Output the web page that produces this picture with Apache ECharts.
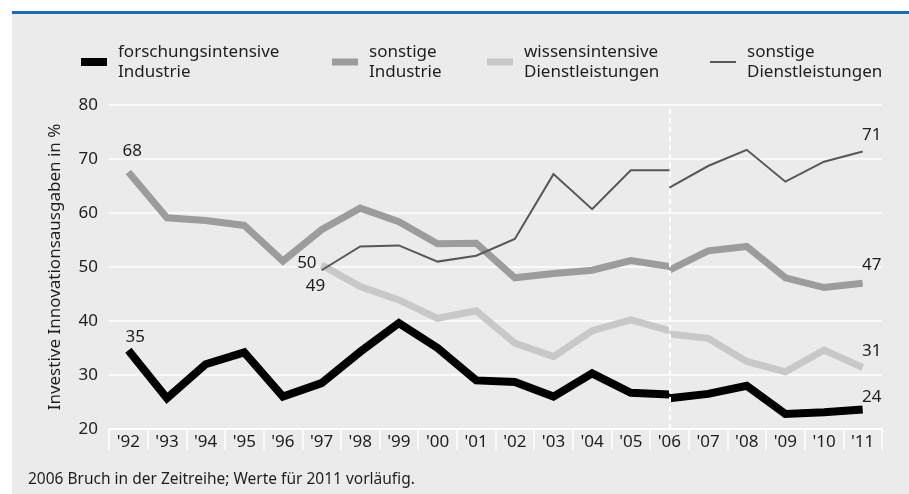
<!DOCTYPE html>
<html>
<head>
<meta charset="utf-8">
<script src="https://cdn.jsdelivr.net/npm/echarts@6/dist/echarts.min.js"></script>
<style>
  html, body { margin: 0; padding: 0; background: #fff; }
  #chart { width: 909px; height: 494px; }
</style>
</head>
<body>
<div id="chart"></div>
<script>
// Jahre 1992 bis 2011
const jahre = ["'92", "'93", "'94", "'95", "'96", "'97", "'98", "'99", "'00", "'01",
  "'02", "'03", "'04", "'05", "'06", "'07", "'08", "'09", "'10", "'11"];

// alte Reihe: 1992-2006, neue Reihe: 2006-2011 (Bruch 2006)
const forschAlt = [34.6, 25.7, 32.0, 34.2, 26.0, 28.5, 34.3, 39.6, 35.0, 29.0, 28.7, 26.0, 30.3, 26.7, 26.4];
const forschNeu = [25.7, 26.5, 28.0, 22.8, 23.1, 23.6];
const sonstIndAlt = [67.6, 59.1, 58.6, 57.7, 51.1, 56.9, 60.9, 58.4, 54.3, 54.4, 48.0, 48.8, 49.4, 51.2, 50.1];
const sonstIndNeu = [49.4, 53.0, 53.8, 48.0, 46.2, 47.0];
// Dienstleistungen erst ab 1997
const wissDlAlt = [null, null, null, null, null, 50.4, 46.4, 43.9, 40.5, 41.9, 35.9, 33.4, 38.2, 40.2, 38.2];
const wissDlNeu = [37.6, 36.8, 32.5, 30.6, 34.6, 31.4];
const sonstDlAlt = [null, null, null, null, null, 49.4, 53.8, 54.0, 51.0, 52.1, 55.2, 67.2, 60.7, 67.9, 67.9];
const sonstDlNeu = [64.7, 68.7, 71.7, 65.8, 69.5, 71.4];

const namen = ["forschungsintensive\nIndustrie", "sonstige\nIndustrie",
  "wissensintensive\nDienstleistungen", "sonstige\nDienstleistungen"];
const farben = ["#000000", "#9b9c9b", "#c7c8c7", "#575757"];
const breiten = [8, 7, 7, 2];

const schrift = "'Noto Sans', 'Open Sans', sans-serif";
const textFarbe = "#1e1e1e";

// Werte auf 20 Kategorien verteilen, Beschriftung an einzelnen Punkten
function alteReihe(werte, labelIdx, lbl) {
  const d = jahre.map((j, i) => (i < werte.length ? werte[i] : null));
  return d.map((v, i) => (i === labelIdx ? { value: v, label: Object.assign({ show: true }, lbl) } : v));
}
function neueReihe(werte, lbl) {
  const d = jahre.map((j, i) => (i >= 14 ? werte[i - 14] : null));
  return d.map((v, i) => (i === 19 ? { value: v, label: Object.assign({ show: true }, lbl) } : v));
}

function linie(idx, data, extra) {
  return Object.assign({
    name: namen[idx],
    type: "line",
    data: data,
    color: farben[idx],
    symbol: "circle",
    symbolSize: 0,
    showSymbol: true,
    connectNulls: false,
    silent: true,
    lineStyle: { width: breiten[idx], color: farben[idx], join: "miter", cap: "butt" },
    itemStyle: { color: farben[idx] },
    label: {
      show: false,
      fontFamily: schrift,
      fontSize: 17,
      color: textFarbe,
      formatter: (p) => Math.round(p.value),
    },
  }, extra || {});
}

const series = [
  linie(1, alteReihe(sonstIndAlt, 0, { position: "top", offset: [4, -7] })),
  linie(1, neueReihe(sonstIndNeu, { position: "top", offset: [9, -5] })),
  linie(2, alteReihe(wissDlAlt, 5, { position: "left", offset: [0, -2] })),
  linie(2, neueReihe(wissDlNeu, { position: "top", offset: [9, -3] })),
  linie(0, alteReihe(forschAlt, 0, { position: "top", offset: [7, 0] })),
  linie(0, neueReihe(forschNeu, { position: "top", offset: [9, 1] })),
  linie(3, alteReihe(sonstDlAlt, 5, { position: "bottom", offset: [-6, 2] })),
  linie(3, neueReihe(sonstDlNeu, { position: "top", offset: [9, -3] }), {
    markLine: {
      silent: true,
      symbol: "none",
      label: { show: false },
      lineStyle: { color: "#ffffff", type: [5, 4], width: 2 },
      data: [{ xAxis: "'06" }],
    },
  }),
];

// eine Legende je Eintrag, damit jede ihre eigene Strichstärke hat
const legendLinks = [81, 332, 487, 710];
const legendHoehe = [8, 7, 7, 2];
const legend = namen.map((n, i) => ({
  data: [n],
  left: legendLinks[i],
  top: 42,
  padding: 0,
  icon: "rect",
  itemWidth: 26,
  itemHeight: legendHoehe[i],
  selectedMode: false,
  textStyle: { fontFamily: schrift, fontSize: 17, lineHeight: 20, color: textFarbe, padding: [0, 0, 0, 6] },
}));

const chart = echarts.init(document.getElementById("chart"), null, { renderer: "canvas" });
chart.setOption({
  backgroundColor: "#ffffff",
  animation: false,
  graphic: [
    { type: "rect", left: 12, top: 14, shape: { width: 897, height: 480 }, style: { fill: "#ebebeb" }, z: -10 },
    { type: "rect", left: 12, top: 11, shape: { width: 897, height: 3 }, style: { fill: "#1d6db4" }, z: -10 },
    {
      type: "text", left: 28, top: 472,
      style: { text: "2006 Bruch in der Zeitreihe; Werte für 2011 vorläufig.", font: "15.5px " + schrift, fill: textFarbe },
    },
  ],
  legend: legend,
  grid: { left: 109, right: 27, top: 105, bottom: 65 },
  xAxis: {
    type: "category",
    data: jahre,
    boundaryGap: true,
    axisLine: { lineStyle: { color: "#ffffff", width: 1.5 } },
    axisTick: { show: true, interval: 0, length: 21, lineStyle: { color: "#ffffff", width: 1.5 } },
    axisLabel: { interval: 0, margin: 5, fontFamily: schrift, fontSize: 17, color: textFarbe },
  },
  yAxis: {
    type: "value",
    min: 20,
    max: 80,
    interval: 10,
    name: "Investive Innovationsausgaben in %",
    nameLocation: "middle",
    nameRotate: 90,
    nameGap: 45,
    nameTextStyle: { fontFamily: schrift, fontSize: 17, color: textFarbe },
    axisLine: { show: false },
    axisTick: { show: false },
    axisLabel: { margin: 11, fontFamily: schrift, fontSize: 17, color: textFarbe },
    splitLine: { lineStyle: { color: "#ffffff", width: 1.5 } },
  },
  series: series,
});
</script>
</body>
</html>
